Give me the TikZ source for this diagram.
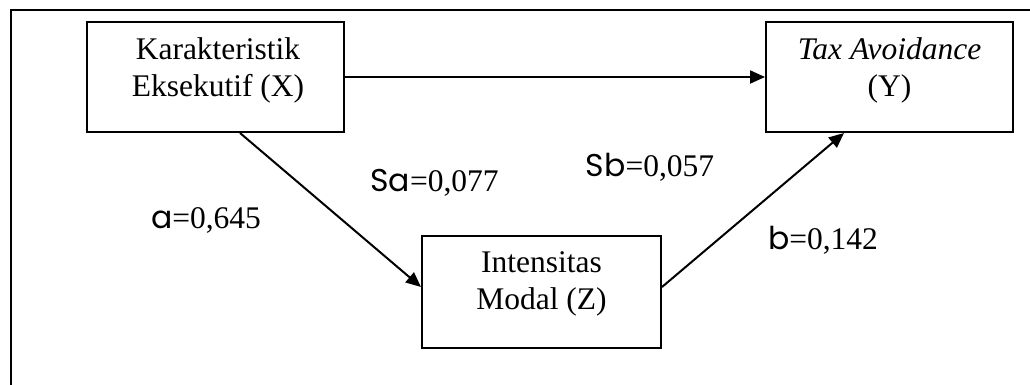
\documentclass[tikz,border=0pt]{standalone}
\usepackage{fontspec}
\setmainfont{Liberation Serif}
\newfontfamily\labfont{Poppins}
\usetikzlibrary{arrows.meta}
\tikzset{
  box/.style={draw, line width=2pt, rectangle, inner sep=0pt},
  txt/.style={align=center, inner sep=0pt, font=\fontsize{31.5}{37}\selectfont},
  lab/.style={inner sep=0pt, font=\fontsize{31.5}{37}\selectfont},
  conn/.style={line width=2pt, -{Triangle[length=15pt,width=13pt]}},
  frame/.style={line width=2pt}
}
\begin{document}
\begin{tikzpicture}[x=1pt,y=-1pt]
\useasboundingbox (0,0) rectangle (1030,385);
\coordinate (fbl) at (11,390);
\coordinate (ftl) at (11,10);
\coordinate (ftr) at (1035,10);
\draw[frame] (fbl) -- (ftl) -- (ftr);
\node[box, minimum width=257pt, minimum height=110pt] (xb) at (215.5,77) {};
\node[box, minimum width=247pt, minimum height=110pt] (yb) at (889.5,77) {};
\node[box, minimum width=239pt, minimum height=112pt] (zb) at (541.5,292) {};
\node[txt] (xt) at (218,70) {Karakteristik\\Eksekutif (X)};
\node[txt] (yt) at (889.5,70) {\textit{Tax Avoidance}\\(Y)};
\node[txt] (zt) at (541.5,284) {Intensitas\\Modal (Z)};
\draw[conn] (xb.east) -- (yb.west);
\draw[conn] ([xshift=24.5pt]xb.south) -- ([yshift=5pt]zb.west);
\draw[conn] ([yshift=5pt]zb.east) -- ([xshift=-45.5pt]yb.south);
\node[lab] (la) at (206,220) {{\labfont a}=0,645};
\node[lab] (lsa) at (434.5,183) {{\labfont Sa}=0,077};
\node[lab] (lsb) at (650,167) {{\labfont Sb}=0,057};
\node[lab] (lb) at (823,240) {{\labfont b}=0,142};
\end{tikzpicture}
\end{document}
